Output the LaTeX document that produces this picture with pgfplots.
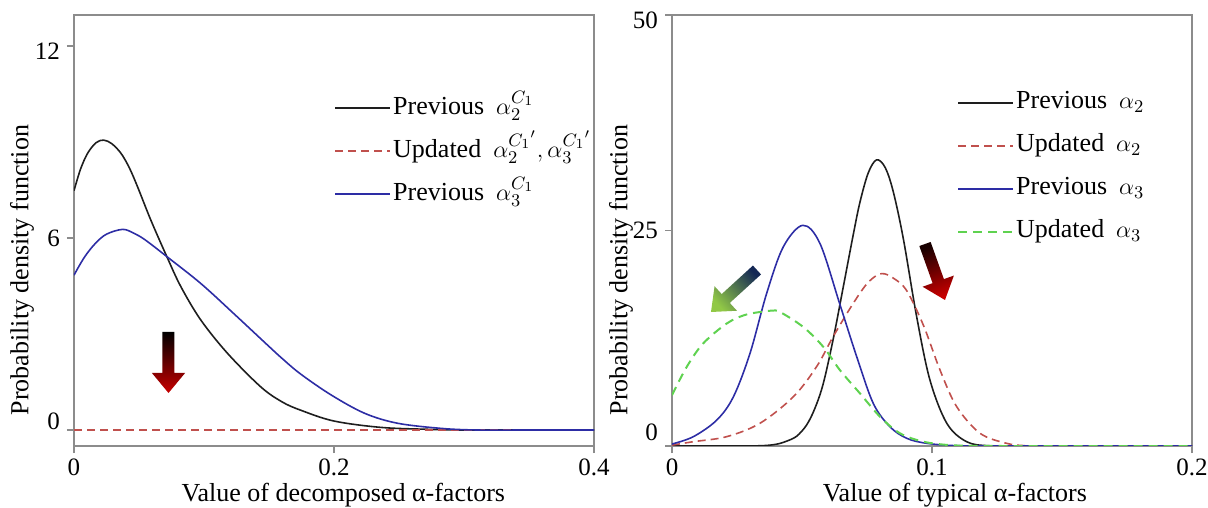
\documentclass[border=0pt]{standalone}
\usepackage{fontspec}
\setmainfont{Liberation Serif}
\usepackage{pgfplots}
\pgfplotsset{compat=1.18}
\usetikzlibrary{calc}

\definecolor{axgray}{RGB}{140,140,140}
\definecolor{cblack}{RGB}{30,30,30}
\definecolor{cred}{RGB}{192,80,77}
\definecolor{cblue}{RGB}{45,45,165}
\definecolor{cgreen}{RGB}{95,210,80}
\definecolor{arrred}{RGB}{200,0,0}
\definecolor{arrdark}{RGB}{25,0,0}
\definecolor{arrnavy}{RGB}{20,40,85}
\definecolor{arrgreen}{RGB}{145,200,70}

\newcommand{\lift}[2]{\raisebox{#1}[\height][\depth]{#2}}

\pgfplotsset{
  panel/.style={
    scale only axis, width=260bp, height=215.5bp, anchor=south west,
    axis line style={axgray, line width=0.8pt},
    tick style={axgray, line width=0.8pt},
    major tick length=3.5bp,
    tick align=outside, xtick pos=bottom, ytick pos=left,
    ticklabel style={font=\fontsize{12.5bp}{14bp}\selectfont},
    xticklabel style={inner sep=1bp, yshift=-1.5bp},
    /pgf/number format/assume math mode=true,
    label style={font=\fontsize{13bp}{15bp}\selectfont},
    xlabel style={inner sep=0.5bp, text height=8bp},
    legend style={draw=none, fill=none, anchor=north west, inner sep=0pt,
      row sep=5.5bp, font=\fontsize{13bp}{15bp}\selectfont,
      nodes={inner sep=1bp, text height=10bp, text depth=4bp}},
    legend cell align=left,
    legend image code/.code={\draw[line width=0.9pt,##1] (0bp,0bp) -- (27.5bp,0bp);},
    every axis plot/.append style={line width=0.8pt, smooth, tension=0.55},
  }
}

% shaded block arrow, given in picture pixels: tail x y, tip x y, colours, shading angle
\newcommand{\gradarrow}[7]{%
  \coordinate (gaT) at ({#1*0.5bp},{254bp-#2*0.5bp});
  \coordinate (gaP) at ({#3*0.5bp},{254bp-#4*0.5bp});
  \coordinate (gaB) at ($(gaP)!10bp!(gaT)$);
  \shade[top color=#5, bottom color=#6, shading angle=#7]
    ($(gaT)!3bp!90:(gaP)$) -- ($(gaB)!3bp!90:(gaP)$) -- ($(gaB)!8.3bp!90:(gaP)$)
    -- (gaP) -- ($(gaB)!8.3bp!-90:(gaP)$) -- ($(gaB)!3bp!-90:(gaP)$)
    -- ($(gaT)!3bp!-90:(gaP)$) -- cycle;
}

\begin{document}
\begin{tikzpicture}
\useasboundingbox (0,0) rectangle (604bp,254bp);

% ---- left panel ----
\begin{axis}[panel, at={(37bp,31bp)},
    xmin=0, xmax=0.4, ymin=-0.5, ymax=12.97,
    xtick={0,0.2,0.4}, xticklabels={0,0.2,0.4},
    ytick={0,6,12}, yticklabels={{\lift{4.5bp}{0}},6,{\lift{-2.7bp}{12}}},
    xlabel={Value of decomposed α-factors},
    ylabel={Probability density function},
    xlabel style={at={(axis description cs:0.518,0)}, anchor=base, yshift=-27.5bp},
    ylabel style={at={(axis description cs:-0.1,0.408)}, anchor=center},
    legend style={at={(axis description cs:0.5,0.822)}},
]
\addplot[cblack] coordinates {
 (0,7.48) (0.005,8.15) (0.0105,8.65) (0.017,8.98) (0.0228,9.06) (0.029,8.95)
 (0.0361,8.65) (0.0425,8.2) (0.0489,7.6) (0.0591,6.56) (0.0714,5.42) (0.0822,4.48)
 (0.0975,3.44) (0.118,2.40) (0.1436,1.35) (0.16,0.88) (0.1743,0.62) (0.2,0.28)
 (0.2365,0.08) (0.274,0.02) (0.3,0) (0.35,0) (0.4,0)};
\addlegendentry{Previous\hspace{6bp}$\alpha_2^{C_1}$}
\addplot[cred, dash pattern=on 4bp off 2.5bp, sharp plot] coordinates {(0,0) (0.4,0)};
\addlegendentry{Updated\hspace{6bp}$\alpha_2^{{C_1}'},\alpha_3^{{C_1}'}$}
\addplot[cblue] coordinates {
 (0,4.84) (0.008,5.4) (0.0164,5.83) (0.025,6.12) (0.0374,6.27) (0.046,6.15)
 (0.0548,5.94) (0.0714,5.42) (0.0975,4.58) (0.1231,3.63) (0.1487,2.66) (0.1597,2.25)
 (0.1743,1.75) (0.198,1.09) (0.2237,0.52) (0.249,0.21) (0.2826,0.05) (0.31,0)
 (0.35,0) (0.4,0)};
\addlegendentry{Previous\hspace{6bp}$\alpha_3^{C_1}$}
\end{axis}

% ---- right panel ----
\begin{axis}[panel, at={(336bp,31bp)},
    xmin=0, xmax=0.2, ymin=0, ymax=50,
    xtick={0,0.1,0.2}, xticklabels={0,0.1,0.2},
    ytick={0,25,50}, yticklabels={{\lift{7bp}{0}},25,{\lift{-2.5bp}{50}}},
    xlabel={Value of typical α-factors},
    ylabel={Probability density function},
    xlabel style={at={(axis description cs:0.544,0)}, anchor=base, yshift=-27.5bp},
    ylabel style={at={(axis description cs:-0.098,0.408)}, anchor=center},
    legend style={at={(axis description cs:0.548,0.834)}},
]
\addplot[cblack] coordinates {
 (0,0) (0.02,0) (0.034,0.03) (0.04,0.2) (0.044,0.55) (0.048,1.15) (0.0518,2.45)
 (0.055,4.4) (0.0582,7.27) (0.062,12.4) (0.0659,18.5) (0.0697,24.5) (0.0723,28.3)
 (0.0755,31.7) (0.0787,33.2) (0.082,32.3) (0.0851,29.5) (0.089,24.0) (0.0941,15.0)
 (0.0992,7.66) (0.1057,2.63) (0.1133,0.5) (0.1223,0.02) (0.14,0) (0.17,0) (0.2,0)};
\addlegendentry{Previous\hspace{6bp}$\alpha_2$}
\addplot[cred, dash pattern=on 4bp off 2.5bp] coordinates {
 (0,0.1) (0.0082,0.5) (0.021,1.08) (0.0338,2.63) (0.0467,5.72) (0.0556,9.2)
 (0.062,12.7) (0.0697,16.55) (0.0755,19.0) (0.0806,20.0) (0.0855,19.4) (0.0903,18.0)
 (0.0967,14.0) (0.1031,8.8) (0.1095,4.56) (0.1185,1.47) (0.1287,0.31) (0.1364,0.03)
 (0.15,0) (0.17,0) (0.2,0)};
\addlegendentry{Updated\hspace{6bp}$\alpha_2$}
\addplot[cblue] coordinates {
 (0,0.23) (0.0082,1.08) (0.0172,3.0) (0.0236,5.7) (0.030,10.75) (0.0364,17.7)
 (0.0428,23.1) (0.0503,25.6) (0.0569,23.5) (0.0646,16.4) (0.071,10.4) (0.0774,4.95)
 (0.0838,2.24) (0.0903,0.89) (0.098,0.31) (0.11,0.03) (0.13,0) (0.16,0) (0.2,0)};
\addlegendentry{Previous\hspace{6bp}$\alpha_3$}
\addplot[cgreen, dash pattern=on 4.5bp off 3bp, line width=1pt] coordinates {
 (0,5.9) (0.0057,9.2) (0.012,11.9) (0.021,14.2) (0.028,15.2) (0.0351,15.6)
 (0.0385,15.7) (0.0415,15.55) (0.0505,13.8) (0.0582,11.5) (0.0646,8.8) (0.0723,6.1)
 (0.08,3.4) (0.0877,1.47) (0.0967,0.5) (0.107,0.1) (0.12,0.01) (0.14,0) (0.17,0) (0.2,0)};
\addlegendentry{Updated\hspace{6bp}$\alpha_3$}
\end{axis}

% ---- shaded arrows ----
\gradarrow{168.5}{332}{168.5}{393}{black}{arrred}{0}
\gradarrow{757}{270}{711}{312}{arrnavy}{arrgreen}{-47.6}
\gradarrow{925}{244}{945}{300}{arrdark}{arrred}{19.7}
\end{tikzpicture}
\end{document}
